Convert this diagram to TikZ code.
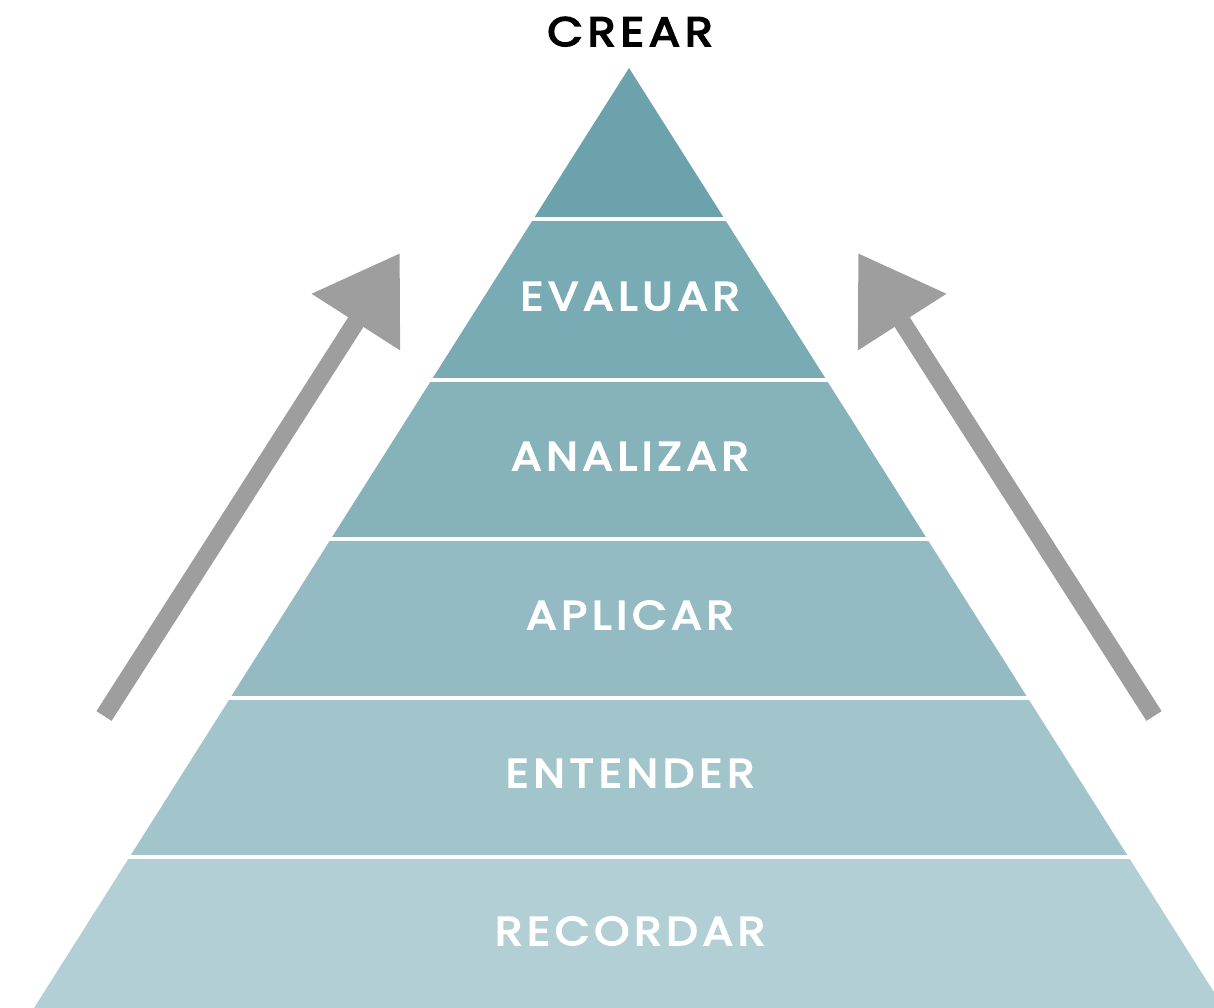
\documentclass[tikz,border=0pt]{standalone}
\usepackage{fontspec}
\usepackage{tikz}
\usetikzlibrary{arrows.meta}

\newfontfamily\pyrfont{Poppins}[LetterSpace=12, FakeStretch=1.12, FakeBold=4]

\definecolor{layerA}{HTML}{6CA2AC}
\definecolor{layerB}{HTML}{78ABB4}
\definecolor{layerC}{HTML}{86B3BA}
\definecolor{layerD}{HTML}{94BBC3}
\definecolor{layerE}{HTML}{A2C4CB}
\definecolor{layerF}{HTML}{B1CFD5}
\definecolor{arrowgray}{HTML}{9E9E9E}

\tikzset{
  levellabel/.style={anchor=base, inner sep=0pt, text=white, font=\pyrfont\fontsize{40}{48}\selectfont},
  toplabel/.style={anchor=base, inner sep=0pt, text=black, font=\pyrfont\fontsize{41}{48}\selectfont},
  riser/.style={draw=arrowgray, line width=18pt, -{Triangle[length=82pt,width=100pt]}},
  gapline/.style={draw=white, line width=4pt}
}

\begin{document}
\begin{tikzpicture}[x=1pt,y=1pt,yscale=-1]
\useasboundingbox (0,0) rectangle (1214,1008);
\clip (0,0) rectangle (1214,1008);

%Pyramid layers
\foreach \yt/\yb/\col in {68/219.5/layerA, 219.5/380/layerB, 380/539/layerC, 539/698/layerD, 698/857/layerE, 857/1012/layerF}
  \fill [\col] ({629-0.633*(\yt-68)},\yt) -- ({629+0.633*(\yt-68)},\yt) -- ({629+0.633*(\yb-68)},\yb) -- ({629-0.633*(\yb-68)},\yb) -- cycle;

%Gaps between layers
\foreach \yg in {219.5, 380, 539, 698, 857}
  \draw [gapline] ({629-0.633*(\yg-68)-3},\yg) -- ({629+0.633*(\yg-68)+3},\yg);

%Arrows
\coordinate (ltail) at (104,716);
\coordinate (ltip) at (400,253);
\coordinate (rtail) at (1154,716);
\coordinate (rtip) at (858,253);
\draw [riser] (ltail) -- (ltip);
\draw [riser] (rtail) -- (rtip);

% Text Node
\node [toplabel] (crear) at (630,46) {CREAR};
\node [levellabel] (evaluar) at (630,310) {EVALUAR};
\node [levellabel] (analizar) at (630,470) {ANALIZAR};
\node [levellabel] (aplicar) at (630,629) {APLICAR};
\node [levellabel] (entender) at (630,787) {ENTENDER};
\node [levellabel] (recordar) at (630,945) {RECORDAR};

\end{tikzpicture}
\end{document}
